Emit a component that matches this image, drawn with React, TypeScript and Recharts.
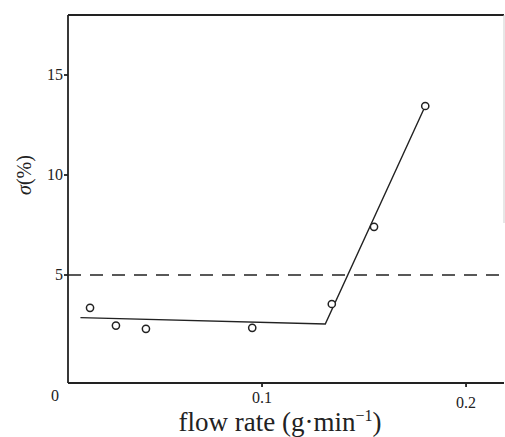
import React from 'react';
import {
  ComposedChart,
  Scatter,
  XAxis,
  YAxis,
  ReferenceLine,
} from 'recharts';

// measured points: flow rate (g/min) vs sigma (%)
const flowRates = [0.0157, 0.0284, 0.0431, 0.0952, 0.1342, 0.1549, 0.18];
const sigmaValues = [3.36, 2.47, 2.31, 2.36, 3.55, 7.41, 13.45];

// fitted line (two segments)
const fitFlow = [0.011, 0.131, 0.18];
const fitSigma = [2.87, 2.55, 13.45];

const xTicks = [0.1, 0.2];
const yTicks = [5, 10, 15];
const originLabel = '0';
const threshold = 5;

const X_DOMAIN: [number, number] = [0.0049, 0.2186];
const Y_DOMAIN: [number, number] = [-0.4, 18];

const points = flowRates.map((x, i) => ({ x, y: sigmaValues[i] }));
const fit = fitFlow.map((x, i) => ({ x, y: fitSigma[i] }));

const INK = '#222';
const FONT = '"Liberation Serif", "DejaVu Serif", serif';

const YTick = (props: any) => {
  const { x, y, payload } = props;
  return (
    <text x={x + 1} y={y + 5} textAnchor="end" fontSize={16} fontFamily={FONT} fill={INK}>
      {payload.value}
    </text>
  );
};

const XTick = (props: any) => {
  const { x, y, payload } = props;
  return (
    <text x={x} y={y + 14 + (payload.value === 0.2 ? 5 : 0)} textAnchor="middle" fontSize={16} fontFamily={FONT} fill={INK}>
      {payload.value}
    </text>
  );
};

const OpenCircle = (props: any) => {
  const { cx, cy } = props;
  return <circle cx={cx} cy={cy} r={3.6} fill="#fff" stroke={INK} strokeWidth={1.5} />;
};

const NoShape = () => <g />;

export default function App() {
  return (
    <div style={{ position: 'absolute', left: 0, top: 0, width: 505, height: 437, background: '#fff' }}>
      <ComposedChart
        width={505}
        height={437}
        margin={{ top: 15, right: 1, bottom: 24, left: 28 }}
      >
        <XAxis
          type="number"
          dataKey="x"
          domain={X_DOMAIN}
          ticks={xTicks}
          allowDataOverflow
          height={30}
          stroke={INK}
          strokeWidth={1.8}
          tickSize={4}
          tick={<XTick />}
        />
        <YAxis
          type="number"
          dataKey="y"
          domain={Y_DOMAIN}
          ticks={yTicks}
          allowDataOverflow
          width={40}
          stroke={INK}
          strokeWidth={1.8}
          tickSize={4}
          tick={<YTick />}
        />
        <ReferenceLine y={Y_DOMAIN[1]} stroke={INK} strokeWidth={1.8} />
        <ReferenceLine
          segment={[{ x: X_DOMAIN[1], y: 7.6 }, { x: X_DOMAIN[1], y: Y_DOMAIN[1] }]}
          stroke="#cfcfcf"
          strokeWidth={1}
        />
        <ReferenceLine y={threshold} stroke={INK} strokeWidth={1.6} strokeDasharray="13 9" />
        <Scatter
          data={fit}
          line={{ stroke: INK, strokeWidth: 1.4 }}
          shape={<NoShape />}
          isAnimationActive={false}
        />
        <Scatter data={points} shape={<OpenCircle />} isAnimationActive={false} />
      </ComposedChart>
      <svg width={505} height={437} style={{ position: 'absolute', left: 0, top: 0, pointerEvents: 'none' }}>
        <text x={55} y={401} textAnchor="middle" fontSize={16} fontFamily={FONT} fill={INK}>
          {originLabel}
        </text>
        <text x={280} y={431} textAnchor="middle" fontSize={27} fontFamily={FONT} fill={INK}>
          flow rate (g·min
          <tspan dy={-10} fontSize={16}>−1</tspan>
          <tspan dy={10}>)</tspan>
        </text>
        <text
          x={0}
          y={0}
          transform="translate(31,175) rotate(-90)"
          textAnchor="middle"
          fontSize={20}
          fontFamily={FONT}
          fill={INK}
        >
          <tspan fontStyle="italic">σ</tspan>(%)
        </text>
      </svg>
    </div>
  );
}
